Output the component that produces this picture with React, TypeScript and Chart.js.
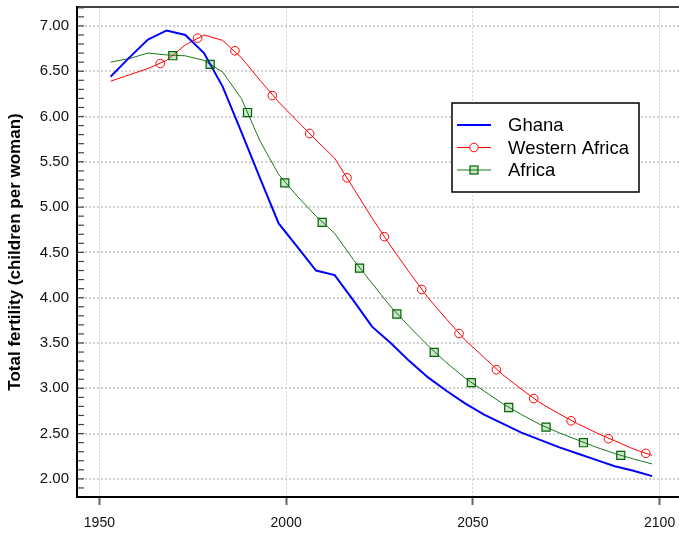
import React, { useEffect, useRef } from 'react';
import { Chart, registerables } from 'chart.js';

Chart.register(...registerables);

// ---- data ----
const years = [
  1953, 1958, 1963, 1968, 1973, 1978, 1983, 1988, 1993, 1998,
  2003, 2008, 2013, 2018, 2023, 2028, 2033, 2038, 2043, 2048,
  2053, 2058, 2063, 2068, 2073, 2078, 2083, 2088, 2093, 2098,
];

const ghana = [
  6.44, 6.65, 6.85, 6.95, 6.90, 6.70, 6.33, 5.83, 5.32, 4.82,
  4.56, 4.30, 4.25, 3.97, 3.68, 3.50, 3.30, 3.12, 2.97, 2.83,
  2.71, 2.61, 2.51, 2.43, 2.35, 2.28, 2.21, 2.14, 2.09, 2.03,
];

const westernAfrica = [
  6.39, 6.46, 6.53, 6.62, 6.79, 6.90, 6.84, 6.65, 6.40, 6.16,
  5.95, 5.74, 5.54, 5.21, 4.88, 4.57, 4.28, 4.00, 3.76, 3.53,
  3.34, 3.15, 2.99, 2.84, 2.72, 2.61, 2.51, 2.42, 2.33, 2.26,
];

const africa = [
  6.60, 6.64, 6.70, 6.68, 6.67, 6.62, 6.49, 6.20, 5.73, 5.36,
  5.12, 4.90, 4.71, 4.42, 4.16, 3.90, 3.68, 3.47, 3.28, 3.11,
  2.97, 2.83, 2.71, 2.60, 2.51, 2.43, 2.35, 2.28, 2.22, 2.165,
];

// marker positions (markers sit between the line vertices in the reference)
const waMarkerYears = [
  1966.3, 1976.3, 1986.3, 1996.3, 2006.3, 2016.3, 2026.3,
  2036.3, 2046.3, 2056.3, 2066.3, 2076.3, 2086.3, 2096.3,
];
const waMarkerValues = [
  6.585, 6.865, 6.726, 6.231, 5.812, 5.323, 4.674,
  4.091, 3.604, 3.205, 2.886, 2.641, 2.443, 2.282,
];
const afMarkerYears = [
  1969.65, 1979.65, 1989.65, 1999.65, 2009.65, 2019.65, 2029.65,
  2039.65, 2049.6, 2059.6, 2069.6, 2079.6, 2089.6,
];
const afMarkerValues = [
  6.671, 6.575, 6.044, 5.268, 4.832, 4.326, 3.820,
  3.396, 3.062, 2.788, 2.571, 2.399, 2.260,
];

const seriesLabels = ['Ghana', 'Western Africa', 'Africa'];
const xTickValues = [1950, 2000, 2050, 2100];
const yMajorTicks = [2.0, 2.5, 3.0, 3.5, 4.0, 4.5, 5.0, 5.5, 6.0, 6.5, 7.0];
const yAxisTitle = 'Total fertility (children per woman)';

// ---- styling ----
const FONT = "'Liberation Sans', Arial, Helvetica, sans-serif";
const BLUE = '#0000ff';
const RED = '#ff0000';
const GREEN = '#1a7a1a';
const GREEN_DARK = '#006400';

const isMajor = (v: number) => yMajorTicks.some((m) => Math.abs(m - v) < 1e-6);

const toXY = (xs: number[], ys: number[]) => xs.map((x, i) => ({ x, y: ys[i] }));

const framePlugin = {
  id: 'frameAndTicks',
  afterDatasetsDraw(chart: any) {
    const { ctx, chartArea, scales } = chart;
    const { left, right, top, bottom } = chartArea;
    ctx.save();
    // inward minor ticks on the y axis
    ctx.strokeStyle = '#444';
    ctx.lineWidth = 1.2;
    (scales.y.ticks as any[]).forEach((t) => {
      const py = scales.y.getPixelForValue(t.value);
      ctx.beginPath();
      ctx.moveTo(left, py);
      ctx.lineTo(left + 7, py);
      ctx.stroke();
    });
    // top frame
    ctx.strokeStyle = '#444';
    ctx.lineWidth = 2;
    ctx.beginPath();
    ctx.moveTo(left, top);
    ctx.lineTo(right + 20, top);
    ctx.stroke();
    // axes
    ctx.strokeStyle = '#000';
    ctx.lineWidth = 2;
    ctx.beginPath();
    ctx.moveTo(left, top - 1);
    ctx.lineTo(left, bottom);
    ctx.lineTo(right + 20, bottom);
    ctx.stroke();
    ctx.restore();
  },
};

const legendPlugin = {
  id: 'boxLegend',
  afterDraw(chart: any) {
    const { ctx } = chart;
    const bx = 452, by = 103, bw = 187, bh = 89;
    const rowY = [125, 147.5, 170];
    ctx.save();
    ctx.fillStyle = '#ffffff';
    ctx.fillRect(bx, by, bw, bh);
    ctx.strokeStyle = '#000';
    ctx.lineWidth = 1.5;
    ctx.strokeRect(bx, by, bw, bh);
    const styles = [
      { color: BLUE, width: 2, marker: 'none' },
      { color: RED, width: 1, marker: 'circle' },
      { color: GREEN, width: 1, marker: 'square' },
    ];
    styles.forEach((s, i) => {
      const y = rowY[i];
      ctx.strokeStyle = s.color;
      ctx.lineWidth = s.width;
      ctx.beginPath();
      ctx.moveTo(457, y);
      ctx.lineTo(491, y);
      ctx.stroke();
      if (s.marker === 'circle') {
        ctx.fillStyle = '#fff';
        ctx.beginPath();
        ctx.arc(474, y, 4.3, 0, Math.PI * 2);
        ctx.fill();
        ctx.strokeStyle = RED;
        ctx.lineWidth = 1;
        ctx.stroke();
      } else if (s.marker === 'square') {
        ctx.fillStyle = 'rgba(0,128,0,0.2)';
        ctx.fillRect(470, y - 4, 8, 8);
        ctx.strokeStyle = GREEN_DARK;
        ctx.lineWidth = 1.2;
        ctx.strokeRect(470, y - 4, 8, 8);
      }
      ctx.fillStyle = '#000';
      ctx.font = `18.5px ${FONT}`;
      ctx.textBaseline = 'middle';
      ctx.textAlign = 'left';
      ctx.fillText(seriesLabels[i], 508, y + 1);
    });
    ctx.restore();
  },
};

export default function App() {
  const canvasRef = useRef<HTMLCanvasElement | null>(null);

  useEffect(() => {
    if (!canvasRef.current) return;
    const chart = new Chart(canvasRef.current, {
      type: 'line',
      data: {
        datasets: [
          {
            label: seriesLabels[1] + ' markers',
            data: toXY(waMarkerYears, waMarkerValues),
            showLine: false,
            pointStyle: 'circle',
            pointRadius: 4.3,
            pointBorderWidth: 1,
            pointBorderColor: RED,
            pointBackgroundColor: 'rgba(255,255,255,0)',
          },
          {
            label: seriesLabels[2] + ' markers',
            data: toXY(afMarkerYears, afMarkerValues),
            showLine: false,
            pointStyle: 'rect',
            pointRadius: 5.7,
            pointBorderWidth: 1.2,
            pointBorderColor: GREEN_DARK,
            pointBackgroundColor: 'rgba(0,128,0,0.2)',
          },
          {
            label: seriesLabels[0],
            data: toXY(years, ghana),
            borderColor: BLUE,
            borderWidth: 2,
            pointRadius: 0,
            tension: 0,
          },
          {
            label: seriesLabels[1],
            data: toXY(years, westernAfrica),
            borderColor: RED,
            borderWidth: 1,
            pointRadius: 0,
            tension: 0,
          },
          {
            label: seriesLabels[2],
            data: toXY(years, africa),
            borderColor: GREEN,
            borderWidth: 1,
            pointRadius: 0,
            tension: 0,
          },
        ],
      },
      options: {
        responsive: false,
        animation: false,
        devicePixelRatio: 1,
        layout: { padding: { top: 5, right: 18, left: 0, bottom: 0 } },
        plugins: {
          legend: { display: false },
          tooltip: { enabled: false },
          title: { display: false },
        },
        scales: {
          x: {
            type: 'linear',
            min: 1944,
            max: 2106,
            afterBuildTicks: (scale: any) => {
              scale.ticks = xTickValues.map((value) => ({ value }));
            },
            afterFit: (scale: any) => {
              scale.height = 38;
              scale.paddingLeft = 0;
              scale.paddingRight = 0;
            },
            grid: {
              color: '#d4d4d4',
              lineWidth: 1,
              drawTicks: true,
              tickLength: 8,
              tickWidth: 2,
              tickColor: '#666',
            },
            border: { display: false, dash: [2, 2] },
            ticks: {
              padding: 10,
              autoSkip: false,
              maxRotation: 0,
              color: '#111',
              font: { family: FONT, size: 14 },
              callback: (v: any) => String(v),
            },
          },
          y: {
            type: 'linear',
            min: 1.8,
            max: 7.21,
            afterBuildTicks: (scale: any) => {
              const t: any[] = [];
              for (let k = 19; k <= 72; k++) t.push({ value: k / 10 });
              scale.ticks = t;
            },
            afterFit: (scale: any) => {
              scale.width = 77;
              scale.paddingTop = 0;
              scale.paddingBottom = 0;
            },
            grid: {
              color: (c: any) => (c.tick && isMajor(c.tick.value) ? '#cfcfcf' : 'rgba(0,0,0,0)'),
              lineWidth: 2,
              drawTicks: false,
            },
            border: { display: false, dash: [2, 2] },
            ticks: {
              padding: 8,
              autoSkip: false,
              color: '#111',
              font: { family: FONT, size: 15 },
              callback: (v: any) => (isMajor(Number(v)) ? Number(v).toFixed(2) : ''),
            },
            title: {
              display: true,
              text: yAxisTitle,
              color: '#000',
              font: { family: FONT, size: 17, weight: 'bold' },
              padding: { top: 5, bottom: 0 },
            },
          },
        },
      } as any,
      plugins: [framePlugin, legendPlugin],
    });
    return () => chart.destroy();
  }, []);

  return (
    <div
      style={{
        position: 'absolute',
        left: 0,
        top: 0,
        width: 679,
        height: 535,
        overflow: 'hidden',
        background: '#fff',
      }}
    >
      <canvas ref={canvasRef} width={700} height={535} style={{ display: 'block', width: 700, height: 535 }} />
    </div>
  );
}
